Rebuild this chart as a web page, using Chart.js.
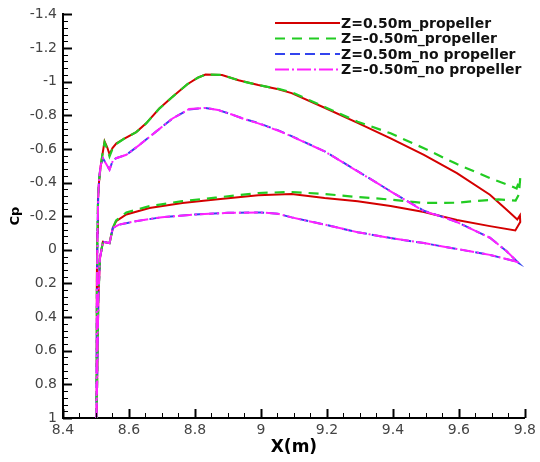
<!DOCTYPE html>
<html>
<head>
<meta charset="utf-8">
<script src="https://cdn.jsdelivr.net/npm/chart.js@4/dist/chart.umd.min.js"></script>
<style>
  html, body { margin: 0; padding: 0; background: #fff; }
  #wrap { width: 540px; height: 462px; position: relative; }
</style>
</head>
<body>
<div id="wrap"><canvas id="c"></canvas></div>
<script>
// ---- data (X in m, Cp) ----
const seriesLabels = [
  'Z=0.50m_propeller',
  'Z=-0.50m_propeller',
  'Z=0.50m_no propeller',
  'Z=-0.50m_no propeller'
];
const xTickValues = [8.4, 8.6, 8.8, 9, 9.2, 9.4, 9.6, 9.8];
const yTickValues = [-1.4, -1.2, -1, -0.8, -0.6, -0.4, -0.2, 0, 0.2, 0.4, 0.6, 0.8, 1];

const propPos = [
  [8.501,1.0],[8.502,0.6],[8.503,0.2],[8.504,-0.1],[8.506,-0.3],[8.509,-0.4],[8.513,-0.48],
  [8.519,-0.56],[8.526,-0.645],[8.534,-0.61],[8.541,-0.568],[8.55,-0.605],[8.562,-0.633],
  [8.586,-0.662],[8.622,-0.70],[8.652,-0.752],[8.692,-0.84],[8.732,-0.91],[8.777,-0.985],
  [8.81,-1.025],[8.832,-1.042],[8.882,-1.04],[8.932,-1.008],[8.992,-0.98],[9.053,-0.955],
  [9.093,-0.932],[9.193,-0.845],[9.293,-0.755],[9.393,-0.663],[9.494,-0.565],[9.594,-0.456],
  [9.694,-0.328],[9.744,-0.24],[9.777,-0.18],[9.785,-0.205],[9.786,-0.165],[9.771,-0.115],
  [9.694,-0.141],[9.594,-0.177],[9.494,-0.225],[9.393,-0.26],[9.293,-0.289],[9.193,-0.308],
  [9.093,-0.332],[8.992,-0.324],[8.862,-0.299],[8.762,-0.279],[8.662,-0.249],[8.592,-0.21],
  [8.561,-0.17],[8.551,-0.13],[8.541,-0.04],[8.521,-0.048],[8.512,0.05],[8.507,0.3],
  [8.504,0.7],[8.502,1.0]
];
const propNeg = [
  [8.501,1.0],[8.502,0.6],[8.503,0.2],[8.504,-0.1],[8.506,-0.3],[8.509,-0.4],[8.513,-0.48],
  [8.519,-0.56],[8.526,-0.64],[8.534,-0.6],[8.541,-0.555],[8.55,-0.6],[8.562,-0.63],
  [8.586,-0.662],[8.622,-0.70],[8.652,-0.752],[8.692,-0.84],[8.732,-0.91],[8.777,-0.985],
  [8.81,-1.025],[8.832,-1.042],[8.882,-1.04],[8.932,-1.008],[8.992,-0.98],[9.053,-0.957],
  [9.093,-0.937],[9.193,-0.85],[9.293,-0.762],[9.393,-0.693],[9.494,-0.604],[9.594,-0.51],
  [9.694,-0.427],[9.744,-0.39],[9.775,-0.365],[9.786,-0.43],[9.782,-0.33],[9.772,-0.293],
  [9.72,-0.30],[9.644,-0.289],[9.594,-0.28],[9.494,-0.279],[9.393,-0.299],[9.293,-0.314],
  [9.193,-0.332],[9.093,-0.344],[8.992,-0.338],[8.862,-0.31],[8.762,-0.29],[8.662,-0.26],
  [8.592,-0.222],[8.561,-0.175],[8.551,-0.13],[8.541,-0.04],[8.521,-0.048],[8.512,0.05],
  [8.507,0.3],[8.504,0.7],[8.502,1.0]
];
const noPropPos = [
  [8.501,1.0],[8.502,0.6],[8.503,0.2],[8.505,-0.15],[8.507,-0.33],[8.51,-0.43],[8.514,-0.5],
  [8.521,-0.545],[8.531,-0.51],[8.541,-0.478],[8.551,-0.53],[8.561,-0.545],[8.592,-0.565],
  [8.632,-0.624],[8.682,-0.703],[8.732,-0.781],[8.782,-0.835],[8.832,-0.844],[8.87,-0.832],
  [8.91,-0.806],[8.95,-0.778],[8.992,-0.754],[9.053,-0.71],[9.093,-0.676],[9.193,-0.586],
  [9.293,-0.468],[9.393,-0.348],[9.494,-0.232],[9.559,-0.19],[9.594,-0.165],[9.694,-0.072],
  [9.744,0.007],[9.782,0.08],[9.77,0.068],[9.694,0.03],[9.594,-0.005],[9.494,-0.04],
  [9.393,-0.07],[9.293,-0.105],[9.193,-0.15],[9.093,-0.193],[9.05,-0.215],[9.0,-0.222],
  [8.9,-0.22],[8.8,-0.21],[8.7,-0.194],[8.62,-0.17],[8.57,-0.15],[8.551,-0.13],[8.541,-0.04],
  [8.521,-0.048],[8.512,0.05],[8.507,0.3],[8.504,0.7],[8.502,1.0]
];
const noPropNeg = [
  [8.501,1.0],[8.502,0.6],[8.503,0.2],[8.505,-0.15],[8.507,-0.33],[8.51,-0.43],[8.514,-0.5],
  [8.521,-0.545],[8.531,-0.51],[8.541,-0.476],[8.551,-0.53],[8.561,-0.545],[8.592,-0.565],
  [8.632,-0.624],[8.682,-0.703],[8.732,-0.781],[8.782,-0.837],[8.832,-0.844],[8.87,-0.832],
  [8.91,-0.806],[8.95,-0.777],[8.992,-0.752],[9.053,-0.708],[9.093,-0.675],[9.193,-0.585],
  [9.293,-0.467],[9.393,-0.348],[9.494,-0.23],[9.559,-0.19],[9.594,-0.165],[9.694,-0.072],
  [9.744,0.007],[9.782,0.08],[9.77,0.068],[9.694,0.03],[9.594,-0.005],[9.494,-0.04],
  [9.393,-0.07],[9.293,-0.105],[9.193,-0.15],[9.093,-0.193],[9.05,-0.215],[9.0,-0.222],
  [8.9,-0.22],[8.8,-0.21],[8.7,-0.194],[8.62,-0.17],[8.57,-0.15],[8.551,-0.13],[8.541,-0.04],
  [8.521,-0.048],[8.512,0.05],[8.507,0.3],[8.504,0.7],[8.502,1.0]
];

const toPts = arr => arr.map(p => ({x: p[0], y: p[1]}));
const fmt = v => String(+(+v).toFixed(2));

const styles = [
  {color: '#d40000', dash: [], width: 2, order: 4},
  {color: '#22cc22', dash: [10, 7], width: 2.2, order: 2},
  {color: '#3344ee', dash: [10, 5], width: 2, order: 3},
  {color: '#ff22ff', dash: [14, 3, 2, 3], width: 2, order: 1}
];
const allSeries = [propPos, propNeg, noPropPos, noPropNeg];

const datasets = allSeries.map((s, i) => ({
  label: seriesLabels[i],
  data: toPts(s),
  showLine: true,
  borderColor: styles[i].color,
  backgroundColor: styles[i].color,
  borderWidth: styles[i].width,
  borderDash: styles[i].dash,
  pointRadius: 0,
  fill: false,
  tension: 0,
  order: styles[i].order
}));

// inward major/minor ticks
const tickPlugin = {
  id: 'inTicks',
  afterDraw(chart) {
    const {ctx, chartArea, scales} = chart;
    const xs = scales.x, ys = scales.y;
    ctx.save();
    ctx.strokeStyle = '#000';
    for (let i = 0; i <= 60; i++) {
      const v = -1.4 + i * 0.04;
      const py = Math.round(ys.getPixelForValue(v)) + 0.5;
      const major = i % 5 === 0;
      ctx.lineWidth = major ? 2 : 1;
      ctx.beginPath();
      ctx.moveTo(chartArea.left, py);
      ctx.lineTo(chartArea.left + (major ? 9 : 5), py);
      ctx.stroke();
    }
    for (let i = 0; i <= 28; i++) {
      const v = 8.4 + i * 0.05;
      const px = Math.round(xs.getPixelForValue(v)) + 0.5;
      const major = i % 4 === 0;
      ctx.lineWidth = major ? 2 : 1;
      ctx.beginPath();
      ctx.moveTo(px, chartArea.bottom);
      ctx.lineTo(px, chartArea.bottom - (major ? 9 : 5));
      ctx.stroke();
    }
    ctx.restore();
  }
};

// legend drawn at top right inside the plot
const legendPlugin = {
  id: 'cornerLegend',
  afterDraw(chart) {
    const ctx = chart.ctx;
    ctx.save();
    chart.data.datasets.forEach((ds, i) => {
      const y = 23 + i * 15.5;
      ctx.strokeStyle = ds.borderColor;
      ctx.lineWidth = ds.borderWidth;
      ctx.setLineDash(ds.borderDash || []);
      ctx.beginPath();
      ctx.moveTo(275, y);
      ctx.lineTo(340, y);
      ctx.stroke();
      ctx.setLineDash([]);
      ctx.fillStyle = '#111';
      ctx.font = 'bold 14px "DejaVu Sans"';
      ctx.textBaseline = 'middle';
      ctx.textAlign = 'left';
      ctx.fillText(ds.label, 341, y + 1);
    });
    ctx.restore();
  }
};

new Chart(document.getElementById('c'), {
  type: 'scatter',
  data: {datasets},
  options: {
    responsive: true,
    maintainAspectRatio: false,
    animation: false,
    devicePixelRatio: 1,
    layout: {padding: {top: 12, right: 12, left: 0, bottom: 0}},
    plugins: {legend: {display: false}, tooltip: {enabled: false}},
    scales: {
      x: {
        type: 'linear',
        min: 8.4, max: 9.8,
        afterBuildTicks: s => { s.ticks = xTickValues.map(v => ({value: v})); },
        afterFit: s => { s.height = 44; },
        ticks: {
          callback: v => fmt(v),
          color: '#444',
          font: {family: 'DejaVu Sans', size: 14},
          padding: 4,
          maxRotation: 0,
          autoSkip: false
        },
        grid: {drawOnChartArea: false, drawTicks: false},
        border: {display: true, color: '#000', width: 2},
        title: {
          display: true, text: 'X(m)', color: '#000',
          font: {family: 'DejaVu Sans', size: 17, weight: 'bold'},
          padding: {top: 0, bottom: 4}
        }
      },
      y: {
        type: 'linear',
        reverse: true,
        min: -1.4, max: 1,
        afterBuildTicks: s => { s.ticks = yTickValues.map(v => ({value: v})); },
        afterFit: s => { s.width = 63; },
        ticks: {
          callback: v => fmt(v),
          color: '#444',
          font: {family: 'DejaVu Sans', size: 14},
          padding: 6,
          autoSkip: false
        },
        grid: {drawOnChartArea: false, drawTicks: false},
        border: {display: true, color: '#000', width: 2},
        title: {
          display: true, text: 'Cp', color: '#000',
          font: {family: 'DejaVu Sans', size: 13, weight: 'bold'},
          padding: {top: 8, bottom: 0}
        }
      }
    }
  },
  plugins: [tickPlugin, legendPlugin]
});
</script>
</body>
</html>
